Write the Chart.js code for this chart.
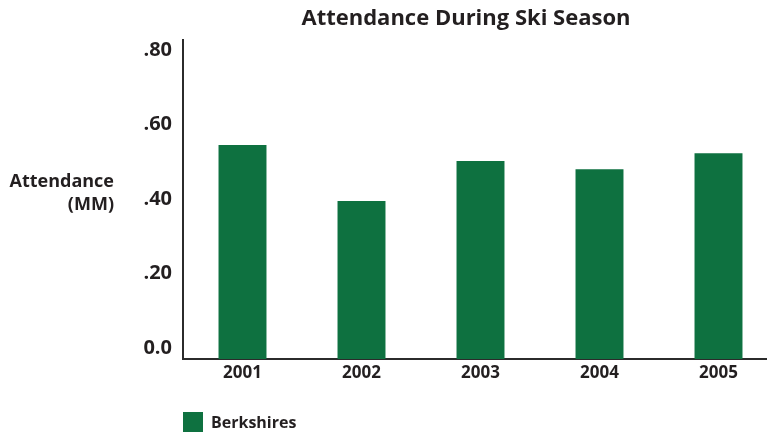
<!DOCTYPE html>
<html>
<head>
<meta charset="utf-8">
<script src="https://cdn.jsdelivr.net/npm/chart.js@4/dist/chart.umd.min.js"></script>
<style>
  html, body { margin: 0; padding: 0; background: #fff; overflow: hidden; }
  #wrap { width: 778px; height: 434px; position: relative; }
</style>
</head>
<body>
<div id="wrap"><canvas id="skiChart"></canvas></div>
<script>
// attendance in millions per season
const years = ['2001', '2002', '2003', '2004', '2005'];
const berkshires = [0.545, 0.395, 0.502, 0.48, 0.523];
const yTickValues = [0, 0.2, 0.4, 0.6, 0.8];
const yTickLabels = ['0.0', '.20', '.40', '.60', '.80'];

const green = '#0e7140';
const ink = '#231f20';
const fontFamily = '"Open Sans", Lato, sans-serif';
const yMin = -0.0295;
const yMax = 0.827;

// title, axis caption and legend drawn on the canvas
const extras = {
  id: 'extras',
  afterDraw: (chart) => {
    const ctx = chart.ctx;
    const area = chart.chartArea;
    ctx.save();
    ctx.fillStyle = ink;
    ctx.font = `bold 22px ${fontFamily}`;
    ctx.textAlign = 'center';
    ctx.textBaseline = 'middle';
    ctx.fillText('Attendance During Ski Season', 466, 19);

    ctx.font = `bold 18px ${fontFamily}`;
    ctx.textAlign = 'right';
    ctx.fillText('Attendance', 114, 182);
    ctx.fillText('(MM)', 114, 205);

    const ds = chart.data.datasets[0];
    ctx.fillStyle = ds.backgroundColor;
    ctx.fillRect(area.left, 412, 20, 20);
    ctx.fillStyle = ink;
    ctx.font = `bold 16px ${fontFamily}`;
    ctx.textAlign = 'left';
    ctx.fillText(ds.label, area.left + 28, 423);
    ctx.restore();
  },
};

new Chart(document.getElementById('skiChart'), {
  type: 'bar',
  data: {
    labels: years,
    datasets: [
      {
        label: 'Berkshires',
        data: berkshires,
        backgroundColor: green,
        base: yMin,
        categoryPercentage: 1,
        barPercentage: 0.403,
      },
    ],
  },
  options: {
    responsive: true,
    maintainAspectRatio: false,
    animation: false,
    layout: { padding: { top: 40, left: 0, right: 0, bottom: 0 } },
    plugins: {
      legend: { display: false },
      tooltip: { enabled: false },
    },
    scales: {
      x: {
        grid: { display: false, drawTicks: false },
        border: { display: true, color: '#2b2b2b', width: 2 },
        ticks: {
          color: ink,
          font: { family: fontFamily, size: 17, weight: 'bold' },
          padding: 4,
          maxRotation: 0,
        },
        afterFit: (s) => { s.height = 75; },
      },
      y: {
        min: yMin,
        max: yMax,
        grid: { display: false, drawTicks: false },
        border: { display: true, color: '#2b2b2b', width: 2 },
        afterBuildTicks: (s) => {
          s.ticks = yTickValues.map((v) => ({ value: v }));
        },
        ticks: {
          color: ink,
          font: { family: fontFamily, size: 20, weight: 'bold' },
          padding: 11,
          callback: (v) => yTickLabels[yTickValues.indexOf(v)],
        },
        afterFit: (s) => { s.width = 183; },
      },
    },
  },
  plugins: [extras],
});
</script>
</body>
</html>
